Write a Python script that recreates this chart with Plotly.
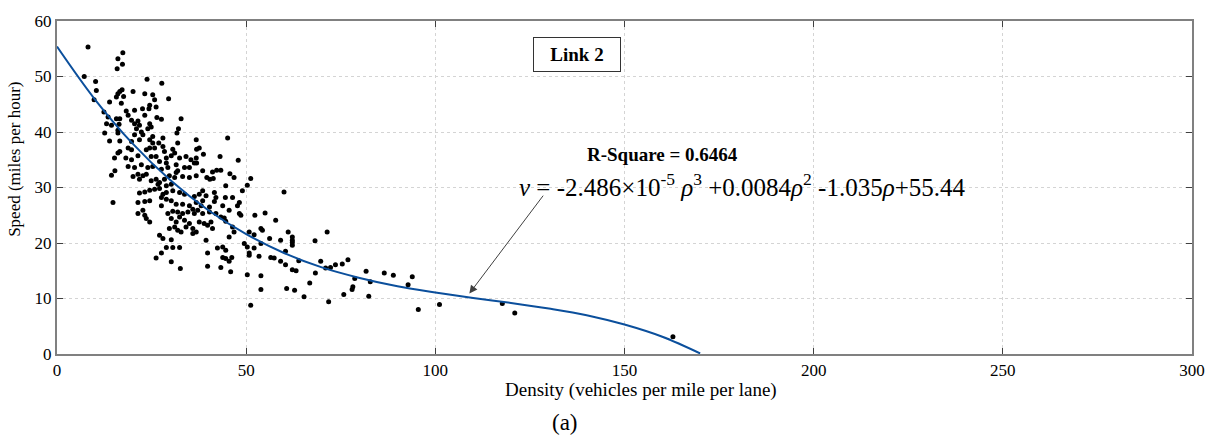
import plotly.graph_objects as go

# ---- data ----
density = [
    8.2, 17.4, 16.1, 17.3, 15.9, 7.2, 10.2, 23.8, 27.7, 10.4, 16.6, 17.2, 16.1, 17.6, 15.7, 20.1, 23.2, 25.3,
    9.8, 13.9, 17.0, 29.5, 25.8, 24.5, 26.2, 12.4, 18.3, 20.5, 22.6, 24.3, 18.8, 23.2, 13.5, 15.7, 16.6, 19.7,
    21.4, 26.4, 27.6, 32.8, 13.1, 14.4, 16.4, 20.5, 21.8, 24.5, 24.9, 21.0, 22.3, 24.0, 16.1, 32.1, 12.6, 16.1,
    20.5, 22.7, 25.3, 28.0, 31.7, 36.8, 13.9, 16.6, 19.7, 21.8, 24.5, 25.3, 26.9, 30.6, 31.9, 16.6, 18.8, 19.7,
    23.6, 24.5, 25.8, 28.0, 28.4,
    16.1, 15.2, 18.2, 19.7, 21.4, 24.9, 26.2, 27.1, 28.9, 28.9, 30.2, 31.1, 32.4, 34.1, 35.4, 36.8, 18.8, 20.5,
    22.3, 24.0, 25.3, 27.6, 29.3, 31.5, 33.7, 35.0, 36.3, 31.9, 14.4, 15.3, 20.1, 21.4, 22.7, 23.6, 21.8, 24.9,
    26.2, 27.1, 28.4, 29.7, 31.1, 31.5, 33.2, 35.0, 36.8, 26.7, 28.9, 30.2, 27.1, 21.8, 23.2, 24.5, 25.8, 28.0,
    28.9, 30.6, 32.4, 33.7, 14.8, 21.4, 23.2, 24.5, 27.6, 28.9, 30.2, 31.5, 33.2, 35.0, 27.6, 21.4, 22.7, 23.2,
    23.6, 24.5, 29.3, 30.6, 31.9, 33.2, 34.6, 35.9, 30.2, 31.5, 32.4, 33.7, 35.0, 36.3, 31.1, 31.9, 32.8, 34.1,
    35.9, 36.8, 29.7, 27.1, 28.0, 30.2, 28.9, 30.6, 32.4, 27.6, 26.2, 30.2, 32.6,
    45.1, 36.9, 37.6, 38.7, 43.1, 36.9, 47.9, 38.5, 41.1, 42.2, 43.3, 45.7, 46.8, 39.6, 40.4, 41.3, 51.2,
    50.3, 44.6, 49.0, 60.0, 38.5, 41.6, 37.6, 39.4, 36.3, 42.0, 44.5, 46.4, 38.5, 36.8, 41.6, 48.2, 47.7, 43.8,
    40.3, 38.1, 37.2, 38.5, 40.3, 42.0, 45.5, 43.3, 48.2, 48.6, 55.0, 52.3, 57.8, 37.6, 38.9, 40.7, 39.8, 41.1,
    44.2, 44.6, 46.4, 46.8, 45.5, 50.8, 52.1, 53.9, 54.3, 61.1, 62.2, 62.2, 62.2, 62.2, 71.4, 39.4, 35.9, 56.2,
    59.1, 68.2, 49.5, 50.3, 52.1, 53.9, 42.4, 43.8, 44.6, 39.8, 50.8, 60.4, 43.8, 44.6, 46.2, 50.8, 53.4, 56.5,
    57.4, 59.1, 60.4, 62.2, 63.2, 63.9, 69.7, 71.0, 72.3, 73.6, 75.4, 39.8, 43.3, 45.5, 45.9, 50.3, 53.9, 68.3,
    66.8, 53.9, 60.7, 62.8, 65.3, 71.8, 75.8, 51.2,
    76.9, 78.7, 78.2, 78.0, 81.7, 82.8, 82.4, 86.5, 88.9, 93.9, 92.8, 95.5, 101.1, 117.7, 121.0, 162.8,
]
speed = [
    55.3, 54.3, 53.2, 52.2, 51.4, 50.0, 49.1, 49.5, 48.8, 47.5, 47.3, 47.6, 46.9, 46.4, 46.3, 47.3, 46.9, 46.7,
    45.8, 45.4, 45.2, 46.0, 45.8, 44.8, 44.5, 43.6, 43.8, 43.9, 44.2, 44.2, 43.0, 43.0, 42.7, 42.4, 42.4, 42.1,
    42.0, 42.6, 42.3, 42.4, 41.5, 41.2, 41.4, 41.5, 41.2, 41.5, 40.9, 40.6, 40.0, 40.6, 40.3, 40.6, 39.8, 39.8,
    39.5, 39.5, 39.2, 38.9, 39.8, 38.6, 38.4, 38.4, 38.3, 38.6, 38.6, 38.0, 38.0, 36.9, 38.0, 36.5, 37.1, 36.8,
    36.8, 37.1, 37.1, 37.4, 36.5,
    36.2, 35.3, 35.3, 35.0, 35.7, 35.6, 35.6, 34.7, 35.3, 34.4, 35.7, 36.2, 35.3, 35.6, 35.0, 35.3, 33.8, 33.6,
    34.1, 33.6, 33.8, 33.3, 33.6, 34.1, 33.6, 33.6, 34.4, 33.0, 32.2, 33.0, 32.0, 32.4, 32.1, 32.4, 31.5, 31.2,
    31.5, 30.9, 31.5, 32.1, 31.8, 32.7, 32.0, 31.8, 32.1, 30.6, 30.3, 30.6, 29.8, 29.0, 29.2, 29.5, 29.7, 28.8,
    29.1, 29.4, 29.1, 28.8, 27.3, 27.3, 27.5, 27.6, 28.2, 27.9, 27.6, 27.0, 27.0, 26.7, 26.7, 25.3, 25.9, 25.0,
    24.4, 23.8, 25.3, 25.7, 25.6, 25.3, 25.6, 26.1, 24.4, 23.8, 24.7, 24.1, 23.5, 25.3, 22.9, 22.3, 22.0, 22.9,
    22.6, 22.0, 22.6, 21.4, 20.8, 20.6, 19.2, 19.2, 19.2, 18.2, 17.3, 16.6, 15.4,
    38.9, 36.9, 37.1, 36.0, 35.6, 34.4, 34.9, 33.0, 32.8, 33.1, 33.1, 32.5, 31.8, 31.8, 31.5, 31.6, 31.6,
    30.4, 30.3, 29.4, 29.2, 29.4, 29.1, 28.8, 28.5, 28.4, 28.2, 28.2, 28.2, 27.6, 27.3, 27.5, 27.3, 26.7, 26.7,
    26.5, 26.7, 25.9, 25.3, 25.6, 25.3, 25.9, 24.7, 25.3, 25.0, 25.4, 25.0, 24.1, 23.8, 23.5, 23.8, 23.2, 22.6,
    24.5, 23.9, 22.9, 22.0, 21.1, 22.0, 21.5, 22.6, 22.3, 22.0, 21.1, 20.5, 20.1, 19.6, 22.0, 20.5, 21.7, 20.8,
    20.5, 20.4, 19.9, 19.3, 19.1, 19.9, 19.1, 19.3, 18.7, 18.2, 18.2, 18.5, 17.4, 17.2, 17.4, 17.8, 17.6, 17.4,
    17.3, 16.7, 16.1, 15.2, 15.0, 16.8, 16.7, 15.5, 15.6, 16.1, 16.2, 15.8, 15.6, 16.7, 14.8, 14.3, 14.1, 14.6,
    12.8, 11.6, 11.8, 11.5, 10.3, 9.4, 10.7, 8.8,
    17.0, 13.6, 12.1, 11.6, 14.9, 13.0, 10.4, 14.6, 14.2, 13.9, 12.5, 8.0, 8.9, 9.1, 7.4, 3.1,
]

fit_density = [0, 10, 20, 30, 40, 50, 60, 70, 80, 90, 100, 110, 120, 130, 140, 150, 160, 170]
fit_speed = [55.4, 45.9, 37.9, 31.3, 25.9, 21.6, 18.2, 15.6, 13.7, 12.2, 11.1, 10.1, 9.2, 8.2, 7.0, 5.3, 3.1, 0.1]

x_ticks = [0, 50, 100, 150, 200, 250, 300]
y_ticks = [0, 10, 20, 30, 40, 50, 60]

FONT = "Liberation Serif, Times New Roman, serif"

fig = go.Figure()
fig.add_trace(go.Scatter(
    x=density, y=speed, mode="markers",
    marker=dict(color="black", size=5),
    showlegend=False, hoverinfo="skip",
))
fig.add_trace(go.Scatter(
    x=fit_density, y=fit_speed, mode="lines",
    line=dict(color="#0b4f9c", width=2, shape="spline", smoothing=1.0),
    showlegend=False, hoverinfo="skip",
))

axis_common = dict(
    showline=True, linecolor="#808080", linewidth=2, mirror="ticks",
    ticks="inside", ticklen=6, tickcolor="#404040", tickwidth=1,
    showgrid=True, gridcolor="#d4d4d4", gridwidth=1, griddash="dot",
    zeroline=False,
    tickfont=dict(family=FONT, size=17, color="black"),
)

fig.update_layout(
    width=1224, height=436,
    margin=dict(l=57, r=32, t=16, b=82),
    paper_bgcolor="white", plot_bgcolor="white",
    font=dict(family=FONT, color="black"),
    xaxis=dict(range=[0, 300], tickvals=x_ticks, ticktext=[str(v) for v in x_ticks], **axis_common),
    yaxis=dict(range=[0, 60], tickvals=y_ticks, ticktext=[str(v) for v in y_ticks], **axis_common),
)

annotations = [
    # Link 2 box
    dict(x=137.5, y=53.9, xref="x", yref="y", text="<b>Link 2</b>", showarrow=False,
         font=dict(family=FONT, size=19, color="black"),
         bordercolor="#333333", borderwidth=1, borderpad=1, bgcolor="white",
         width=84, height=31),
    # R-square
    dict(x=160.0, y=35.9, xref="x", yref="y", text="<b>R-Square = 0.6464</b>", showarrow=False,
         font=dict(family=FONT, size=19, color="black")),
    # equation
    dict(x=181.3, y=30.5, xref="x", yref="y",
         text="<i>v</i> = -2.486×10<sup>-5</sup> <i>ρ</i><sup>3</sup> +0.0084<i>ρ</i><sup>2</sup> -1.035<i>ρ</i>+55.44",
         showarrow=False, font=dict(family=FONT, size=25, color="black")),
    # arrow
    dict(x=109.0, y=10.9, xref="x", yref="y", ax=128.8, ay=28.8, axref="x", ayref="y",
         text="", showarrow=True, arrowhead=2, arrowsize=1.6, arrowwidth=1, arrowcolor="#404040"),
    # axis titles
    dict(x=0.5145, y=-0.108, xref="paper", yref="paper", text="Density (vehicles per mile per lane)",
         showarrow=False, font=dict(family=FONT, size=19, color="black"), xanchor="center", yanchor="middle"),
    dict(x=-0.037, y=0.583, xref="paper", yref="paper", text="Speed (miles per hour)", textangle=-90,
         showarrow=False, font=dict(family=FONT, size=17, color="black"), xanchor="center", yanchor="middle"),
    dict(x=0.4476, y=-0.205, xref="paper", yref="paper", text="(a)",
         showarrow=False, font=dict(family=FONT, size=23, color="black"), xanchor="center", yanchor="middle"),
]
fig.update_layout(annotations=annotations)

fig.write_html("out.html")
